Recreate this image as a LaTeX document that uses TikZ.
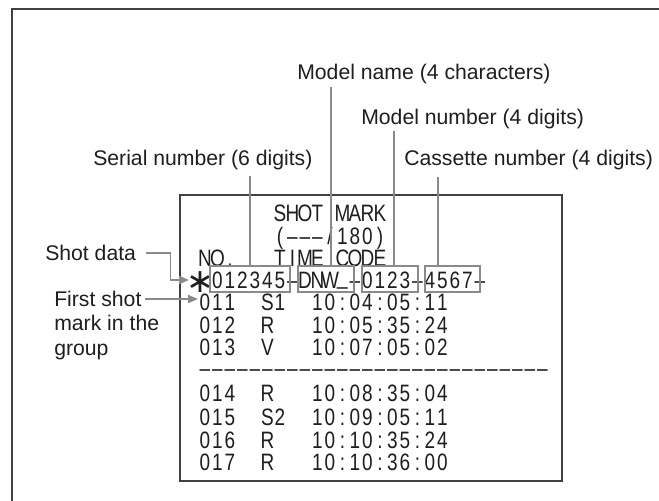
\documentclass[tikz,border=0pt]{standalone}
\usepackage{fontspec}
\setmainfont{Liberation Sans}
\newfontfamily\lcdfont[FakeStretch=0.8]{Liberation Sans}
\newfontfamily\dvfont{DejaVu Sans}
\usetikzlibrary{arrows.meta}
\definecolor{lead}{HTML}{8A8A8A}
\definecolor{frame}{HTML}{404040}
\definecolor{ink}{HTML}{1E1E1E}
\newlength\lcdw
\setlength\lcdw{9.375pt}
\makeatletter
\def\lcd@end{\lcd@end}
\newcommand\lcdtext[1]{\lcd@go#1\lcd@end}
\def\lcd@go#1{\ifx\lcd@end#1\relax\else\hbox to\lcdw{\hss#1\hss}\expandafter\lcd@go\fi}
\makeatother
\newcommand\lsp{\hbox{}}
\newcommand\lcdstar{\raisebox{-3pt}{\dvfont\fontsize{25}{25}\selectfont ∗}\kern7.5pt}
\newcommand\lcdus{\raisebox{0.16em}{\_}}
\begin{document}
\begin{tikzpicture}[x=0.75pt,y=-0.75pt,
  lbl/.style={anchor=base west,inner sep=0pt,text=ink,font=\fontsize{15.9}{18.2}\selectfont},
  scr/.style={anchor=base west,inner sep=0pt,text=ink,font=\lcdfont\fontsize{17.8}{20}\selectfont},
  field/.style={draw=lead,line width=1.6pt,minimum height=19.5pt,inner sep=0pt},
  leader/.style={draw=lead,line width=1.1pt},
  arr/.style={draw=lead,line width=1.4pt,-{Triangle[length=7.5pt,width=6pt]}}]
\useasboundingbox (0,0) rectangle (659,500);
% outer frame (cropped at right and bottom)
\draw[frame,line width=1.4pt] (12,502) -- (12,9) -- (661,9);
% screen
\node[draw=frame,line width=1.1pt,minimum width=286.5pt,minimum height=214.5pt,inner sep=0pt] (screen) at (371,338) {};
% screen text
\node[scr] (r1) at (198.5,221.5) {\lcdtext{\lsp\lsp\lsp\lsp\lsp\lsp SHOT\lsp MARK}};
\node[scr] (r2) at (198.5,244.5) {\lcdtext{\lsp\lsp\lsp\lsp\lsp\lsp(–––/180)}};
\node[scr] (r3) at (198.5,266) {\lcdtext{NO.\lsp\lsp\lsp TIME\lsp CODE}};
\node[scr] (r4) at (198.5,288) {\lcdtext{{\lcdstar}012345–DNW{\lcdus}–0123–4567–}};
\node[scr] (r5) at (198.5,310.5) {\lcdtext{011\lsp\lsp S1\lsp\lsp 10:04:05:11}};
\node[scr] (r6) at (198.5,333.5) {\lcdtext{012\lsp\lsp R\lsp\lsp\lsp 10:05:35:24}};
\node[scr] (r7) at (198.5,355.5) {\lcdtext{013\lsp\lsp V\lsp\lsp\lsp 10:07:05:02}};
\node[scr] (r8) at (198.5,376) {\lcdtext{––––––––––––––––––––––––––––}};
\node[scr] (r9) at (198.5,401.5) {\lcdtext{014\lsp\lsp R\lsp\lsp\lsp 10:08:35:04}};
\node[scr] (r10) at (198.5,425.5) {\lcdtext{015\lsp\lsp S2\lsp\lsp 10:09:05:11}};
\node[scr] (r11) at (198.5,448.5) {\lcdtext{016\lsp\lsp R\lsp\lsp\lsp 10:10:35:24}};
\node[scr] (r12) at (198.5,470.5) {\lcdtext{017\lsp\lsp R\lsp\lsp\lsp 10:10:36:00}};
% field boxes
\node[field,minimum width=60pt] (fserial) at (250,279) {};
\node[field,minimum width=42pt] (fname) at (326,279) {};
\node[field,minimum width=42pt] (fnumber) at (390,279) {};
\node[field,minimum width=41pt] (fcass) at (452.5,279) {};
% labels
\node[lbl] (lserial) at (93,165.6) {Serial number (6 digits)};
\node[lbl] (lname) at (297,79.6) {Model name (4 characters)};
\node[lbl] (lnumber) at (361,124.6) {Model number (4 digits)};
\node[lbl] (lcass) at (404,165.6) {Cassette number (4 digits)};
\node[lbl] (lshot) at (45,260.6) {Shot data};
\node[lbl,align=left] (lfirst) at (54,355.2) {First shot\\mark in the\\group};
% leader lines
\coordinate (cserial) at (250,176);
\coordinate (cname) at (331,87);
\coordinate (cnumber) at (394,131);
\coordinate (ccass) at (438,177);
\draw[leader] (cserial) -- (cserial |- fserial.north);
\draw[leader] (cname) -- (cname |- fname.north);
\draw[leader] (cnumber) -- (cnumber |- fnumber.north);
\draw[leader] (ccass) -- (ccass |- fcass.north);
% arrows
\coordinate (shotkink) at (170.5,280);
\coordinate (shottip) at (189,280);
\coordinate (firststart) at (145,299);
\coordinate (firsttip) at (198,299);
\draw[arr] ([xshift=7.5pt]lshot.east) -| (shotkink) -- (shottip);
\draw[arr] (firststart) -- (firsttip);
\end{tikzpicture}
\end{document}
